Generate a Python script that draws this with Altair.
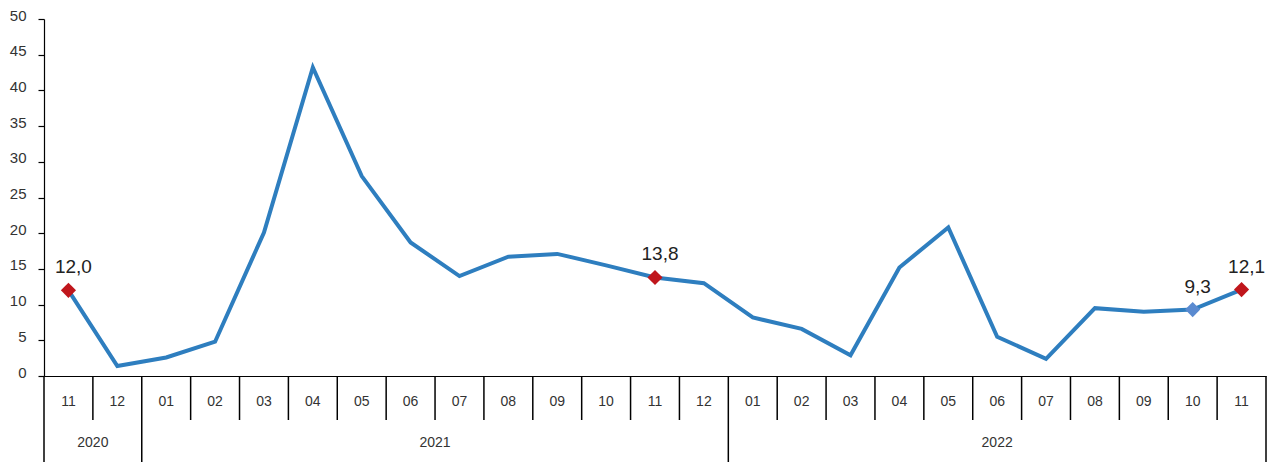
import altair as alt
import pandas as pd

months = ["11", "12", "01", "02", "03", "04", "05", "06", "07", "08", "09", "10", "11", "12",
          "01", "02", "03", "04", "05", "06", "07", "08", "09", "10", "11"]
values = [12.0, 1.4, 2.6, 4.8, 20.1, 43.2, 28.0, 18.7, 14.0, 16.7, 17.1, 15.5, 13.8, 13.0,
          8.2, 6.6, 2.9, 15.2, 20.8, 5.5, 2.4, 9.5, 9.0, 9.3, 12.1]
years = ["2020", "2021", "2022"]
year_span = [(0, 2), (2, 14), (14, 25)]
y_ticks = [0, 5, 10, 15, 20, 25, 30, 35, 40, 45, 50]
red_idx = [0, 12, 24]
blue_idx = [23]
labels = {0: "12,0", 12: "13,8", 23: "9,3", 24: "12,1"}

df = pd.DataFrame({"pos": [i + 0.5 for i in range(len(values))], "month": months, "value": values})
red_df = df.iloc[red_idx]
blue_df = df.iloc[blue_idx]
lab_df = pd.DataFrame({"pos": [i + 0.5 for i in labels], "value": [values[i] for i in labels],
                       "label": list(labels.values())})
long_bounds = sorted(set([s for s, e in year_span] + [e for s, e in year_span]))
short_bounds = [b for b in range(len(values) + 1) if b not in long_bounds]
short_df = pd.DataFrame({"b": short_bounds})
long_df = pd.DataFrame({"b": long_bounds})
year_df = pd.DataFrame({"year": years, "c": [(s + e) / 2 for s, e in year_span]})

FONT = "Liberation Sans"
xs = alt.Scale(domain=[0, len(values)], nice=False, zero=False)
ys = alt.Scale(domain=[0, 50], nice=False)

xaxis = alt.Axis(labels=False, ticks=False, grid=False, title=None, domainColor="black", domainWidth=1.2)
yaxis = alt.Axis(values=y_ticks, grid=False, title=None, domainColor="black",
                 domainWidth=1.2, tickColor="black", tickSize=6, tickWidth=1.2, labelPadding=12,
                 labelFontSize=15, labelColor="#333333", labelFont=FONT, labelOffset=-4,
                 labelOverlap=False, labelBound=False)


def X(field):
    return alt.X(field, scale=xs, axis=xaxis)


def Y(field):
    return alt.Y(field, scale=ys, axis=yaxis)


base = alt.Chart(df)
line = base.mark_line(color="#2E7EBF", strokeWidth=4).encode(x=X("pos:Q"), y=Y("value:Q"))
red = alt.Chart(red_df).mark_point(shape="diamond", filled=True, color="#C0161C", size=230, opacity=1).encode(
    x=X("pos:Q"), y=Y("value:Q"))
blue = alt.Chart(blue_df).mark_point(shape="diamond", filled=True, color="#5A8AD0", size=230, opacity=1).encode(
    x=X("pos:Q"), y=Y("value:Q"))
text = alt.Chart(lab_df).mark_text(fontSize=19, font=FONT, color="#222222", dx=5, dy=-23).encode(
    x=X("pos:Q"), y=Y("value:Q"), text="label:N")

month_text = base.mark_text(fontSize=14, font=FONT, color="#333333").encode(
    x=X("pos:Q"), y=alt.value(383), text="month:N")
short_rules = alt.Chart(short_df).mark_rule(color="black", strokeWidth=1.5).encode(
    x=X("b:Q"), y=alt.value(357), y2=alt.value(401))
long_rules = alt.Chart(long_df).mark_rule(color="black", strokeWidth=1.5).encode(
    x=X("b:Q"), y=alt.value(357), y2=alt.value(443))
year_text = alt.Chart(year_df).mark_text(fontSize=14, font=FONT, color="#333333").encode(
    x=X("c:Q"), y=alt.value(424), text="year:N")

chart = alt.layer(line, red, blue, text, month_text, short_rules, long_rules, year_text).properties(
    width=1222, height=357,
    background="white",
    autosize=alt.AutoSizeParams(type="none"),
    padding={"left": 36, "top": 11, "right": 6, "bottom": 86},
).configure_view(strokeWidth=0, stroke=None)

chart.save("out.html", embed_options={"renderer": "svg", "actions": False})
